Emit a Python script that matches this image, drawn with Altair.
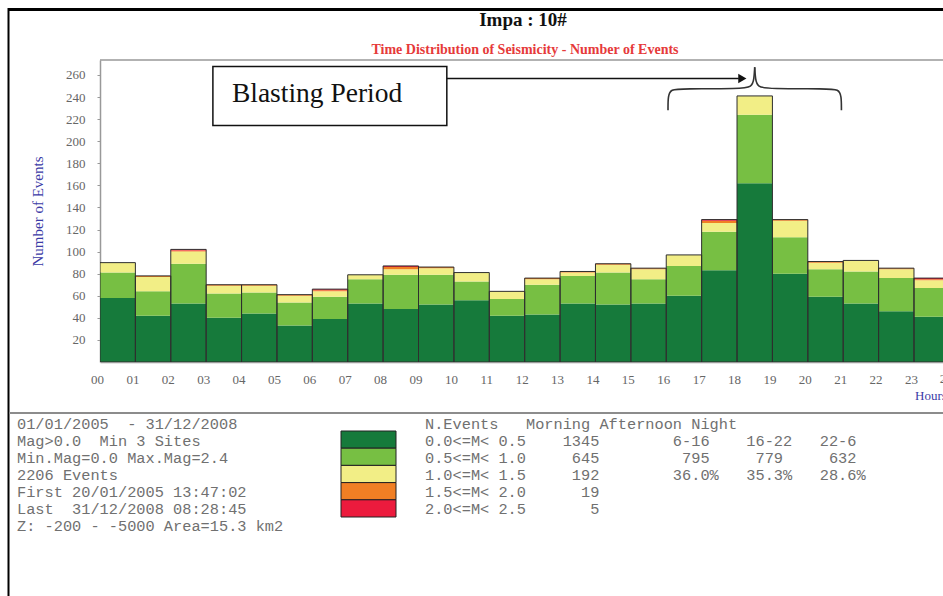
import altair as alt
import pandas as pd

# ---- hourly event counts per magnitude class (hour of day 00..23) ----
HOURS = list(range(24))
CLASSES = ["0.0<=M< 0.5", "0.5<=M< 1.0", "1.0<=M< 1.5", "1.5<=M< 2.0", "2.0<=M< 2.5"]
COLORS = ["#167a3b", "#77bf43", "#f2ee86", "#f17f24", "#ec1b3d"]

M00_05 = [58, 42, 53, 40, 44, 33, 39, 53, 48, 52, 56, 42, 43, 53, 52, 53, 60, 83, 162, 80, 59, 53, 46, 41]
M05_10 = [23, 22, 36, 22, 19, 21, 20, 22, 31, 27, 17, 15, 27, 25, 29, 22, 27, 35, 62, 33, 25, 29, 30, 26]
M10_15 = [9, 13, 11, 7, 6, 6, 5, 4, 5, 6, 8, 7, 5, 3, 7, 9, 10, 8, 17, 15, 6, 10, 8, 7]
M15_20 = [0, 1, 1, 1, 1, 1, 1, 0, 2, 1, 0, 0, 1, 1, 1, 1, 0, 2, 0, 1, 1, 0, 1, 1]
M20_25 = [0, 0, 1, 0, 0, 0, 1, 0, 1, 0, 0, 0, 0, 0, 0, 0, 0, 1, 0, 0, 0, 0, 0, 1]
SERIES = [M00_05, M05_10, M10_15, M15_20, M20_25]

# ---- catalogue header text ----
TITLE = "Impa : 10#"
SUBTITLE = "Time Distribution of Seismicity - Number of Events"
PERIOD = "01/01/2005  - 31/12/2008"
SELECTION = "Mag>0.0  Min 3 Sites"
MAG_RANGE = "Min.Mag=0.0 Max.Mag=2.4"
FIRST = "First 20/01/2005 13:47:02"
LAST = "Last  31/12/2008 08:28:45"
DEPTH = "Z: -200 - -5000 Area=15.3 km2"
DAY_PARTS = ["Morning", "Afternoon", "Night"]
DAY_HOURS = ["6-16", "16-22", "22-6"]
DAY_RANGES = [range(6, 16), range(16, 22), list(range(22, 24)) + list(range(0, 6))]

# ---- blasting-period annotation (hours / event units) ----
BOX_HOURS = [3.19, 9.80]
BOX_EVENTS = [214.2, 267.7]
ARROW_EVENTS = 256.8
ARROW_HOURS = [9.80, 18.05]
ARROW_TIP = 18.15
BRACE_LEFT_X = [16.05, 16.05, 16.13, 16.45, 18.10, 18.42, 18.48, 18.50]
BRACE_LEFT_Y = [228, 241, 247, 247.5, 247.5, 249, 256, 267]
BRACE_RIGHT_X = [18.50, 18.52, 18.58, 18.90, 20.55, 20.87, 20.95, 20.95]
BRACE_RIGHT_Y = [267, 256, 249, 247.5, 247.5, 247, 241, 228]

# ---- derived tables ----
rows = []
for rank, (cls, series) in enumerate(zip(CLASSES, SERIES)):
    for h, n in zip(HOURS, series):
        rows.append({"hour": h, "hour_end": h + 1, "cls": cls, "rank": rank, "n": n})
bars_df = pd.DataFrame(rows)

totals = [sum(s[h] for s in SERIES) for h in HOURS]
class_counts = [sum(s) for s in SERIES]
n_events = sum(totals)
part_counts = [sum(totals[h] for h in rng) for rng in DAY_RANGES]
part_pct = [f"{100 * c / n_events:.1f}%" for c in part_counts]

NB = "\u00a0"


def mono(s):
    return s.replace(" ", NB)


left_lines = [PERIOD, SELECTION, MAG_RANGE, f"{n_events} Events", FIRST, LAST, DEPTH]
right_lines = [
    f"{'':14}N.Events{'':3}{DAY_PARTS[0]} {DAY_PARTS[1]} {DAY_PARTS[2]}",
    f"{CLASSES[0]}{class_counts[0]:>8}{'':8}{DAY_HOURS[0]:<8}{DAY_HOURS[1]:<8}{DAY_HOURS[2]}",
    f"{CLASSES[1]}{class_counts[1]:>8}{'':9}{part_counts[0]:<8}{part_counts[1]:<8}{part_counts[2]}",
    f"{CLASSES[2]}{class_counts[2]:>8}{'':8}{part_pct[0]:<8}{part_pct[1]:<8}{part_pct[2]}",
    f"{CLASSES[3]}{class_counts[3]:>8}",
    f"{CLASSES[4]}{class_counts[4]:>8}",
]
left_df = pd.DataFrame({"row": range(len(left_lines)), "txt": [mono(s) for s in left_lines]})
right_df = pd.DataFrame({"row": range(len(right_lines)), "txt": [mono(s) for s in right_lines]})
swatch_df = pd.DataFrame({"row": range(len(CLASSES)), "cls": CLASSES})

brace_df = pd.DataFrame(
    {"x": BRACE_LEFT_X + BRACE_RIGHT_X,
     "y": BRACE_LEFT_Y + BRACE_RIGHT_Y,
     "side": ["left"] * len(BRACE_LEFT_X) + ["right"] * len(BRACE_RIGHT_X),
     "step": list(range(len(BRACE_LEFT_X))) + list(range(len(BRACE_RIGHT_X)))}
)
arrow_df = pd.DataFrame({"x": ARROW_HOURS, "y": [ARROW_EVENTS] * 2})
box_df = pd.DataFrame({"x": [BOX_HOURS[0]], "x2": [BOX_HOURS[1]],
                       "y": [BOX_EVENTS[0]], "y2": [BOX_EVENTS[1]]})
one = pd.DataFrame({"k": [0]})

# ---- layout ----
PLOT_W, PLOT_H = 843, 302
SERIF = "Liberation Serif"
MONO = "Liberation Mono"
AXIS_GREY = "#999999"
LABEL_GREY = "#666666"
BLUE = "#3b3ba6"

x_scale = alt.Scale(domain=[0, PLOT_W / 35.39], nice=False, zero=False)
y_scale = alt.Scale(domain=[0, PLOT_H / 1.104], nice=False)
cls_color = alt.Color("cls:N", scale=alt.Scale(domain=CLASSES, range=COLORS), legend=None)

x_axis = alt.Axis(
    values=HOURS,
    labelExpr="datum.value < 10 ? '0' + datum.value : '' + datum.value",
    labelFont=SERIF, labelFontSize=13, labelColor=LABEL_GREY,
    labelPadding=11, labelOffset=-3, labelOverlap=False, labelFlush=False,
    tickSize=0, domainColor=AXIS_GREY, domainWidth=1.5, grid=False, title=None,
)
y_axis = alt.Axis(
    values=list(range(20, 261, 20)),
    labelFont=SERIF, labelFontSize=13, labelColor=LABEL_GREY,
    labelPadding=12, labelOverlap=False, labelFlush=False,
    tickSize=3, tickColor=AXIS_GREY, domainColor=AXIS_GREY, domainWidth=1.5, grid=False,
    title="Number of Events", titleFont=SERIF, titleFontSize=15, titleFontWeight="normal",
    titleColor=BLUE, titleX=-63, titleY=151, titleAngle=270,
    titleAlign="center", titleBaseline="middle",
)


def xq(field):
    return alt.X(field, type="quantitative", scale=x_scale, axis=x_axis)


def yq(field):
    return alt.Y(field, type="quantitative", scale=y_scale, axis=y_axis)


stacked = (
    alt.Chart(bars_df)
    .transform_stack(stack="n", groupby=["hour"], as_=["y0", "y1"],
                     sort=[alt.SortField("rank", order="ascending")])
    .mark_rect(clip=True, strokeWidth=0)
    .encode(x=xq("hour"), x2="hour_end:Q", y=yq("y0"), y2="y1:Q", color=cls_color)
)

outline = (
    alt.Chart(bars_df)
    .transform_aggregate(total="sum(n)", groupby=["hour", "hour_end"])
    .mark_rect(clip=True, fillOpacity=0, stroke="#2e2e2e", strokeWidth=1)
    .encode(x=xq("hour"), x2="hour_end:Q", y=yq("total"), y2=alt.datum(0))
)

top_frame = alt.Chart(one).mark_rule(color=AXIS_GREY, strokeWidth=1.5).encode(
    x=alt.value(0), x2=alt.value(PLOT_W), y=alt.value(0)
)

last_hour_label = alt.Chart(one).mark_text(
    font=SERIF, fontSize=13, color=LABEL_GREY, dx=-3, baseline="top"
).encode(x=xq("hr"), y=alt.value(PLOT_H + 11), text=alt.value("24")
         ).transform_calculate(hr="24")

hours_label = alt.Chart(one).mark_text(
    font=SERIF, fontSize=13, color=BLUE, align="left", baseline="middle"
).encode(x=alt.value(815), y=alt.value(336), text=alt.value("Hours"))

title = alt.Chart(one).mark_text(
    font=SERIF, fontSize=19, fontWeight="bold", color="#111111", baseline="middle"
).encode(x=alt.value(423), y=alt.value(-40), text=alt.value(TITLE))

subtitle = alt.Chart(one).mark_text(
    font=SERIF, fontSize=14, fontWeight="bold", color="#e63a3a", baseline="middle"
).encode(x=alt.value(425), y=alt.value(-10), text=alt.value(SUBTITLE))

# annotation: labelled box, arrow and brace over the blasting hours
box = alt.Chart(box_df).mark_rect(fill="white", stroke="#111111", strokeWidth=1.5).encode(
    x=xq("x"), x2="x2:Q", y=yq("y"), y2="y2:Q",
)
box_text = alt.Chart(box_df).mark_text(
    font=SERIF, fontSize=27.5, color="#111111", align="left", baseline="middle", dx=19
).encode(
    x=xq("x"), y=yq("yc"), text=alt.value("Blasting Period"),
).transform_calculate(yc="(datum.y + datum.y2) / 2 + 2")

arrow = alt.Chart(arrow_df).mark_line(color="#111111", strokeWidth=1.5).encode(
    x=xq("x"), y=yq("y"),
)
arrow_head = alt.Chart(one).mark_point(
    shape="triangle-right", filled=True, color="#111111", size=90, opacity=1
).encode(x=xq("tx"), y=yq("ty")).transform_calculate(
    tx=str(ARROW_TIP), ty=str(ARROW_EVENTS)
)

brace = alt.Chart(brace_df).mark_line(
    color="#333333", strokeWidth=1.6, interpolate="basis"
).encode(x=xq("x"), y=yq("y"), detail="side:N", order="step:Q")

# page frame and info panel separator
frame_top = alt.Chart(one).mark_rule(color="#000000", strokeWidth=3).encode(
    x=alt.value(-92), x2=alt.value(PLOT_W), y=alt.value(-50.5)
)
frame_left = alt.Chart(one).mark_rule(color="#000000", strokeWidth=2).encode(
    x=alt.value(-91.5), y=alt.value(-52), y2=alt.value(540)
)
separator = alt.Chart(one).mark_rule(color="#8c8c8c", strokeWidth=2).encode(
    x=alt.value(-91), x2=alt.value(PLOT_W), y=alt.value(353)
)

# info panel
left_text = alt.Chart(left_df).mark_text(
    font=MONO, fontSize=15.3, color="#707070", align="left", baseline="middle"
).transform_calculate(py="363.5 + datum.row * 17").encode(
    x=alt.value(-83), y=alt.Y("py:Q", scale=None), text="txt:N"
)
right_text = alt.Chart(right_df).mark_text(
    font=MONO, fontSize=15.3, color="#707070", align="left", baseline="middle"
).transform_calculate(py="363.5 + datum.row * 17").encode(
    x=alt.value(325), y=alt.Y("py:Q", scale=None), text="txt:N"
)
swatches = alt.Chart(swatch_df).mark_rect(stroke="#222222", strokeWidth=1).transform_calculate(
    sy0="371 + datum.row * 17.2", sy1="371 + (datum.row + 1) * 17.2"
).encode(
    x=alt.value(241), x2=alt.value(296),
    y=alt.Y("sy0:Q", scale=None), y2="sy1:Q",
    color=cls_color,
)

chart = alt.layer(
    stacked, outline, top_frame, last_hour_label, hours_label, title, subtitle,
    box, box_text, arrow, arrow_head, brace,
    frame_top, frame_left, separator, left_text, right_text, swatches,
).properties(
    width=PLOT_W, height=PLOT_H,
    autosize=alt.AutoSizeParams(type="none"),
    padding={"left": 100, "top": 60, "right": 0, "bottom": 234},
    background="white",
).configure_view(stroke=None)

chart.save("out.html", embed_options={"renderer": "svg", "actions": False})
